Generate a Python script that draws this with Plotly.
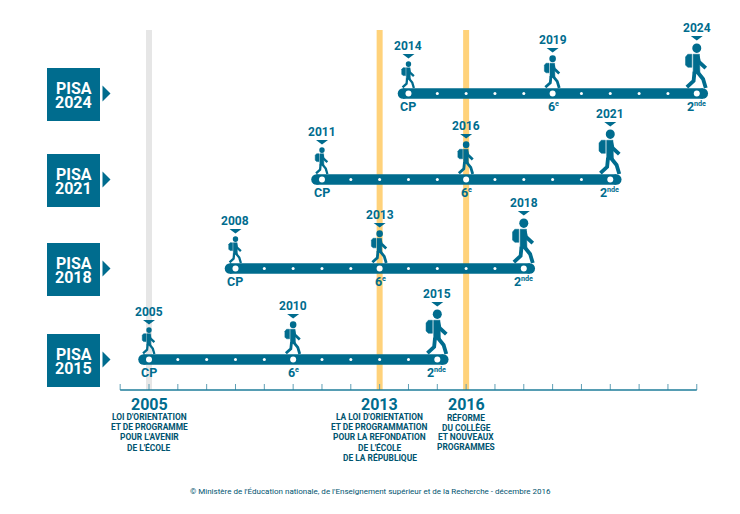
import plotly.graph_objects as go

# Values
pisa_rounds = ["2015", "2018", "2021", "2024"]
cp_years = [2005, 2008, 2011, 2014]
sixth_years = [2010, 2013, 2016, 2019]
seconde_years = [2015, 2018, 2021, 2024]
tick_years = list(range(2004, 2025))
law_years = [2005, 2013, 2016]
law_titles = ["2005", "2013", "2016"]
law_texts = [
    ["LOI D'ORIENTATION", "ET DE PROGRAMME", "POUR L'AVENIR", "DE L'ÉCOLE"],
    ["LA LOI D'ORIENTATION", "ET DE PROGRAMMATION", "POUR LA REFONDATION", "DE L'ÉCOLE", "DE LA RÉPUBLIQUE"],
    ["RÉFORME", "DU COLLÈGE", "ET NOUVEAUX", "PROGRAMMES"],
]
footer = "© Ministère de l'Éducation nationale, de l'Enseignement supérieur et de la Recherche - décembre 2016"

# Layout: y axis is in pixels from the top, x axis in years
TEAL = "#006C8E"
DARK = "#00546F"
PX_PER_YEAR = 28.83
ROW_Y = [359.5, 268.5, 179.5, 93.5]
BOX_X = 73.5
FONT = "Roboto"


def year_at(px):
    return 2005 + (px - 149) / PX_PER_YEAR


def dx(px):
    return px / PX_PER_YEAR


fig = go.Figure()

# vertical bands behind the timelines
for year, color in zip(law_years, ["#E6E6E6", "#FFD27A", "#FFD27A"]):
    fig.add_trace(go.Scatter(x=[year, year], y=[30, 390], mode="lines",
                             line=dict(color=color, width=6)))

# year axis at the bottom
tick_x, tick_y = [], []
for year in tick_years:
    tick_x += [year, year, None]
    tick_y += [384, 390, None]
fig.add_trace(go.Scatter(x=tick_x, y=tick_y, mode="lines",
                         line=dict(color="#5F9FB5", width=1)))
fig.add_trace(go.Scatter(x=[tick_years[0], tick_years[-1]], y=[390, 390], mode="lines",
                         line=dict(color="#1E7C9A", width=1.5)))

shapes = []
annotations = []


def add_text(x, y, text, size, color=TEAL, xanchor="center"):
    annotations.append(dict(x=x, y=y, text=text, showarrow=False, xanchor=xanchor, yanchor="middle",
                            borderpad=0, font=dict(family=FONT, size=size, color=color)))


def add_walker(year, y_feet, h):
    # Unit figure: feet at 0, top of the head at 1
    def pt(u, v):
        return f"{year + dx(u * h):.4f},{y_feet - v * h:.2f}"

    def filled(points):
        path = "M" + " L".join(pt(u, v) for u, v in points) + " Z"
        shapes.append(dict(type="path", path=path, xref="x", yref="y",
                           fillcolor=TEAL, line=dict(color=TEAL, width=0.5)))

    def limb(points):
        path = "M" + " L".join(pt(u, v) for u, v in points)
        shapes.append(dict(type="path", path=path, xref="x", yref="y",
                           line=dict(color=TEAL, width=0.085 * h)))

    shapes.append(dict(type="circle", xref="x", yref="y", fillcolor=TEAL, line=dict(width=0),
                       x0=year + dx(-0.1 * h), x1=year + dx(0.1 * h),
                       y0=y_feet - 0.99 * h, y1=y_feet - 0.78 * h))
    filled([(-0.08, 0.75), (0.06, 0.75), (0.07, 0.32), (-0.08, 0.32)])
    filled([(-0.2, 0.75), (-0.11, 0.75), (-0.11, 0.46), (-0.2, 0.46), (-0.25, 0.51), (-0.25, 0.69)])
    limb([(0.02, 0.7), (0.05, 0.58), (0.2, 0.44)])
    limb([(0.01, 0.36), (0.14, 0.2), (0.2, 0.0)])
    limb([(-0.05, 0.36), (-0.07, 0.16), (-0.22, 0.02)])


def add_grade(year, y, base, sup):
    # superscript drawn as its own small text so the base stays centred on the year
    if not sup:
        add_text(year, y, f"<b>{base}</b>", 12.5)
        return
    split = year + dx(-2 if len(sup) > 1 else 3)
    add_text(split, y, f"<b>{base}</b>", 12.5, xanchor="right")
    add_text(split - dx(2), y - 2.5, f"<b>{sup}</b>", 7.2, xanchor="left")


for row, label in enumerate(pisa_rounds):
    y = ROW_Y[row]
    first, mid, last = cp_years[row], sixth_years[row], seconde_years[row]

    # left hand box, its arrow and the round name
    fig.add_trace(go.Scatter(x=[year_at(BOX_X)], y=[y + 1], mode="markers",
                             marker=dict(symbol="square", size=53, color=TEAL, line=dict(width=0))))
    shapes.append(dict(type="path", xref="x", yref="y", fillcolor=TEAL, line=dict(width=0),
                       path=f"M{year_at(102.5):.4f},{y - 8} L{year_at(110.5):.4f},{y} L{year_at(102.5):.4f},{y + 8} Z"))
    add_text(year_at(BOX_X), y - 5.5, "<b>PISA</b>", 16, "white")
    add_text(year_at(BOX_X), y + 8.5, f"<b>{label}</b>", 16, "white")

    # the timeline itself
    fig.add_trace(go.Scatter(x=[first - dx(5.5), last + dx(6)], y=[y, y], mode="lines+markers",
                             line=dict(color=TEAL, width=10.5),
                             marker=dict(size=10.5, color=TEAL, line=dict(width=0))))
    years = list(range(first, last + 1))
    fig.add_trace(go.Scatter(x=years, y=[y] * len(years), mode="markers",
                             marker=dict(size=3, color="white", line=dict(width=0))))
    fig.add_trace(go.Scatter(x=[first, mid, last], y=[y] * 3, mode="markers",
                             marker=dict(size=6, color="white", line=dict(width=0))))

    # one walker per grade, growing with age
    for year, h, base, sup in zip([first, mid, last], [27, 33, 45], ["CP", "6", "2"], ["", "e", "nde"]):
        add_walker(year, y - 5.5, h)
        top = y - 5.5 - h
        shapes.append(dict(type="path", xref="x", yref="y", fillcolor=TEAL, line=dict(width=0),
                           path=f"M{year - dx(6):.4f},{top - 7} L{year + dx(6):.4f},{top - 7} L{year:.4f},{top - 2.5} Z"))
        add_text(year, top - 15, f"<b>{year}</b>", 12)
        add_grade(year, y + 12.5, base, sup)

# reforms under the axis
for year, title, lines in zip(law_years, law_titles, law_texts):
    add_text(year, 404, f"<b>{title}</b>", 16)
    for i, line in enumerate(lines):
        add_text(year, 417 + 10 * i, f"<b>{line}</b>", 8.4, DARK)

add_text(year_at(370.5), 491, footer, 8, DARK)

fig.update_layout(
    width=740, height=514,
    margin=dict(l=0, r=0, t=0, b=0),
    paper_bgcolor="white", plot_bgcolor="white",
    showlegend=False, hovermode=False,
    shapes=shapes, annotations=annotations,
    xaxis=dict(range=[year_at(0), year_at(740)], visible=False, fixedrange=True),
    yaxis=dict(range=[514, 0], visible=False, fixedrange=True),
)

fig.write_html("out.html", config=dict(displayModeBar=False),
               post_script="document.body.style.margin='0'")
